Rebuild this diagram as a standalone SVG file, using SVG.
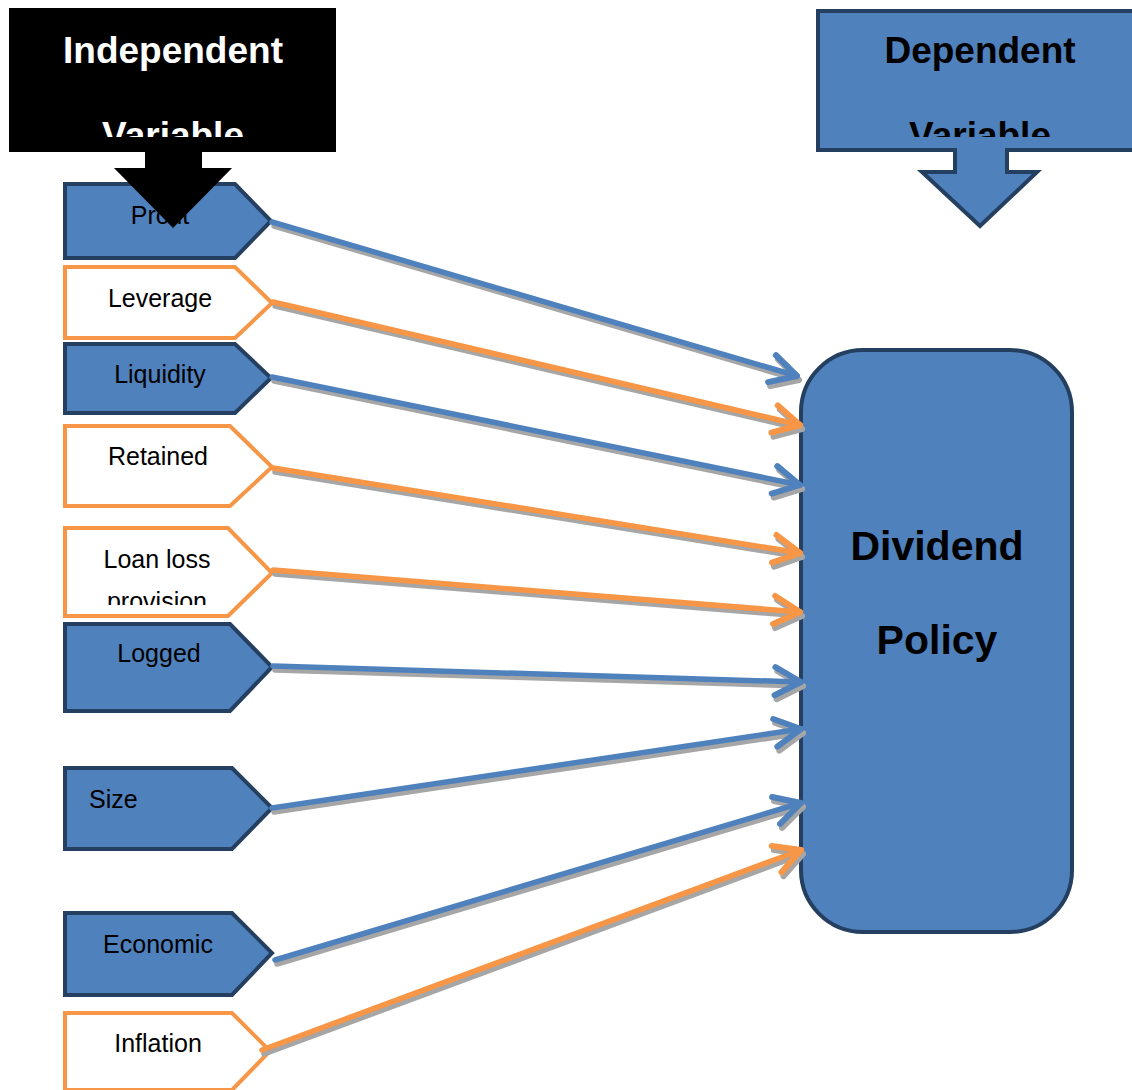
<svg xmlns="http://www.w3.org/2000/svg" width="1132" height="1090" viewBox="0 0 1132 1090">
<style>
.blue{fill:#4F81BD;stroke:#243F60;stroke-width:4;stroke-linejoin:miter}
.orange{fill:#FFFFFF;stroke:#F79646;stroke-width:4}
.lbl{font-family:"Liberation Sans",Arial,sans-serif;font-size:25px;fill:#000}
.hdr{font-family:"Liberation Sans",Arial,sans-serif;font-weight:bold;font-size:37px}
.big{font-family:"Liberation Sans",Arial,sans-serif;font-weight:bold;font-size:41px;fill:#000}
.cb{fill:none;stroke:#4F81BD;stroke-width:5.5;stroke-linecap:round}
.co{fill:none;stroke:#F79646;stroke-width:5.5;stroke-linecap:round}
.cs{fill:none;stroke:#A6A6A6;stroke-width:5.5;stroke-linecap:round}
</style>
<defs>
<marker id="mb" markerUnits="userSpaceOnUse" markerWidth="60" markerHeight="60" refX="30" refY="30" orient="auto" viewBox="0 0 60 60" overflow="visible">
<path d="M4,16 L30,30 L4,44" fill="none" stroke="#4F81BD" stroke-width="6" stroke-linecap="round" stroke-linejoin="round"/>
</marker>
<marker id="mo" markerUnits="userSpaceOnUse" markerWidth="60" markerHeight="60" refX="30" refY="30" orient="auto" viewBox="0 0 60 60" overflow="visible">
<path d="M4,16 L30,30 L4,44" fill="none" stroke="#F79646" stroke-width="6" stroke-linecap="round" stroke-linejoin="round"/>
</marker>
<marker id="ms" markerUnits="userSpaceOnUse" markerWidth="60" markerHeight="60" refX="30" refY="30" orient="auto" viewBox="0 0 60 60" overflow="visible">
<path d="M4,16 L30,30 L4,44" fill="none" stroke="#A6A6A6" stroke-width="6" stroke-linecap="round" stroke-linejoin="round"/>
</marker>
<clipPath id="clipInd"><rect x="9" y="8" width="327" height="129"/></clipPath>
<clipPath id="clipDep"><rect x="818" y="10" width="330" height="127"/></clipPath>
<clipPath id="clipLoan"><rect x="60" y="527" width="220" height="78"/></clipPath>
</defs>

<g id="dependent-header">
<path class="blue" d="M818,11 L1146,11 L1146,150 L1007,150 L1007,172 L1037,172 L980,226 L922,172 L955,172 L955,150 L818,150 Z"/>
<g clip-path="url(#clipDep)">
<text class="hdr" x="980" y="63" text-anchor="middle" fill="#000">Dependent</text>
<text class="hdr" x="980" y="148" text-anchor="middle" fill="#000">Variable</text>
</g>
</g>

<g id="dividend-policy">
<rect class="blue" x="801" y="350" width="271" height="582" rx="62" ry="62"/>
<text class="big" x="937" y="560" text-anchor="middle">Dividend</text>
<text class="big" x="937" y="654" text-anchor="middle">Policy</text>
</g>

<g id="profit">
<path class="blue" d="M65,184 L235,184 L271,221 L235,258 L65,258 Z"/>
<text class="lbl" x="160" y="224" text-anchor="middle">Profit</text>
</g>
<g id="leverage">
<path class="orange" d="M65,267 L235,267 L272,303 L235,338 L65,338 Z"/>
<text class="lbl" x="160" y="307" text-anchor="middle">Leverage</text>
</g>
<g id="liquidity">
<path class="blue" d="M65,344 L235,344 L271,378 L235,413 L65,413 Z"/>
<text class="lbl" x="160" y="383" text-anchor="middle">Liquidity</text>
</g>
<g id="retained">
<path class="orange" d="M65,426 L230,426 L272,467 L230,506 L65,506 Z"/>
<text class="lbl" x="158" y="465" text-anchor="middle">Retained</text>
</g>
<g id="loan-loss-provision">
<path class="orange" d="M65,528 L228,528 L272,573 L228,616 L65,616 Z"/>
<g clip-path="url(#clipLoan)">
<text class="lbl" x="157" y="568" text-anchor="middle">Loan loss</text>
<text class="lbl" x="157" y="610" text-anchor="middle">provision</text>
</g>
</g>
<g id="logged">
<path class="blue" d="M65,624 L230,624 L272,667 L230,711 L65,711 Z"/>
<text class="lbl" x="159" y="662" text-anchor="middle">Logged</text>
</g>
<g id="size">
<path class="blue" d="M65,768 L232,768 L272,808 L232,849 L65,849 Z"/>
<text class="lbl" x="89" y="808">Size</text>
</g>
<g id="economic">
<path class="blue" d="M65,913 L232,913 L272,953 L232,995 L65,995 Z"/>
<text class="lbl" x="158" y="953" text-anchor="middle">Economic</text>
</g>
<g id="inflation">
<path class="orange" d="M65,1013 L232,1013 L270,1051 L232,1090 L65,1090 Z"/>
<text class="lbl" x="158" y="1052" text-anchor="middle">Inflation</text>
</g>

<g id="connectors">
<g transform="translate(2,4)">
<line class="cs" x1="272" y1="222" x2="797" y2="376" marker-end="url(#ms)"/>
<line class="cs" x1="273" y1="302" x2="800" y2="425" marker-end="url(#ms)"/>
<line class="cs" x1="272" y1="377" x2="800" y2="485" marker-end="url(#ms)"/>
<line class="cs" x1="273" y1="468" x2="800" y2="553" marker-end="url(#ms)"/>
<line class="cs" x1="273" y1="570" x2="800" y2="612" marker-end="url(#ms)"/>
<line class="cs" x1="273" y1="666" x2="801" y2="682" marker-end="url(#ms)"/>
<line class="cs" x1="272" y1="808" x2="801" y2="729" marker-end="url(#ms)"/>
<line class="cs" x1="275" y1="960" x2="801" y2="803" marker-end="url(#ms)"/>
<line class="cs" x1="262" y1="1050" x2="801" y2="850" marker-end="url(#ms)"/>
</g>
<line class="cb" x1="272" y1="222" x2="797" y2="376" marker-end="url(#mb)"/>
<line class="co" x1="273" y1="302" x2="800" y2="425" marker-end="url(#mo)"/>
<line class="cb" x1="272" y1="377" x2="800" y2="485" marker-end="url(#mb)"/>
<line class="co" x1="273" y1="468" x2="800" y2="553" marker-end="url(#mo)"/>
<line class="co" x1="273" y1="570" x2="800" y2="612" marker-end="url(#mo)"/>
<line class="cb" x1="273" y1="666" x2="801" y2="682" marker-end="url(#mb)"/>
<line class="cb" x1="272" y1="808" x2="801" y2="729" marker-end="url(#mb)"/>
<line class="cb" x1="275" y1="960" x2="801" y2="803" marker-end="url(#mb)"/>
<line class="co" x1="262" y1="1050" x2="801" y2="850" marker-end="url(#mo)"/>
</g>

<g id="independent-header">
<path fill="#000" d="M9,8 L336,8 L336,152 L202,152 L202,168 L232,168 L173,228 L114,168 L145,168 L145,152 L9,152 Z"/>
<g clip-path="url(#clipInd)">
<text class="hdr" x="173" y="63" text-anchor="middle" fill="#FFF">Independent</text>
<text class="hdr" x="173" y="148" text-anchor="middle" fill="#FFF">Variable</text>
</g>
</g>
</svg>
